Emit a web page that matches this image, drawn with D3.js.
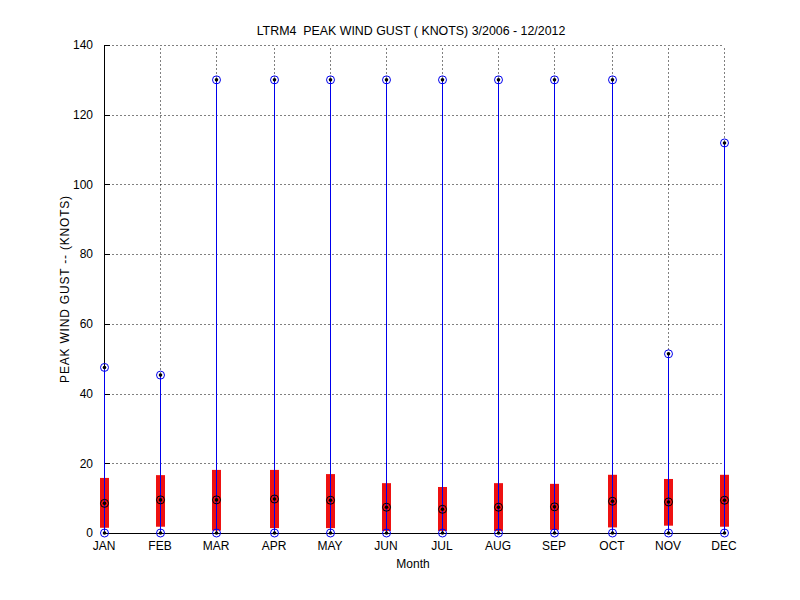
<!DOCTYPE html>
<html>
<head>
<meta charset="utf-8">
<script src="https://cdn.jsdelivr.net/npm/d3@7"></script>
<style>
  body { margin: 0; background: #fff; }
  text { font-family: "Liberation Sans", Arial, sans-serif; font-size: 12px; fill: #000; }
</style>
</head>
<body>
<div id="chart"></div>
<script>
// monthly peak wind gust stats (knots)
var months = ["JAN","FEB","MAR","APR","MAY","JUN","JUL","AUG","SEP","OCT","NOV","DEC"];
var minVals = [0,0,0,0,0,0,0,0,0,0,0,0];
var maxVals = [47.5,45.3,130,130,130,130,130,130,130,130,51.4,111.9];
var meanVals = [8.5,9.5,9.5,9.75,9.4,7.4,6.8,7.4,7.5,9.1,8.9,9.4];
var lowVals = [1.5,1.8,0.7,1.4,1.4,0.6,0.6,0.6,0.9,1.6,2.1,1.8];
var highVals = [15.8,16.6,18.1,18.1,16.9,14.3,13.2,14.3,14.1,16.7,15.5,16.7];
var yTicks = [0,20,40,60,80,100,120,140];

var width = 800, height = 600;
var margin = {top: 45, left: 104, right: 76, bottom: 67};

var svg = d3.select("#chart").append("svg")
    .attr("width", width)
    .attr("height", height);

var x = d3.scalePoint()
    .domain(months)
    .range([margin.left, width - margin.right]);

var y = d3.scaleLinear()
    .domain([0, 140])
    .range([height - margin.bottom, margin.top]);

// snap to even pixel columns so thin coloured lines keep their colour
function col(m){ return Math.round(x(m) / 2) * 2; }
function px(m){ return col(m) + 0.5; }
function py(v){ return Math.round(y(v)) + 0.5; }

var lineBlue = "#0000ee";

// grid
svg.append("g").selectAll("line.gx")
    .data(months).enter().append("line")
    .attr("x1", px).attr("x2", px)
    .attr("y1", py(0)).attr("y2", py(140))
    .attr("stroke", "#000").attr("stroke-width", 1)
    .attr("stroke-dasharray", "1,3");

svg.append("g").selectAll("line.gy")
    .data(yTicks).enter().append("line")
    .attr("x1", px("JAN")).attr("x2", px("DEC"))
    .attr("y1", py).attr("y2", py)
    .attr("stroke", "#000").attr("stroke-width", 1)
    .attr("stroke-dasharray", "1,3");

// axes (ticks point inward like matlab)
var yAxis = d3.axisLeft(y).tickValues(yTicks).tickSizeInner(-6).tickSizeOuter(0).tickPadding(11);
var gy = svg.append("g")
    .attr("transform", "translate(" + col("JAN") + ",0)")
    .call(yAxis);

var xAxis = d3.axisBottom(x).tickSizeInner(-6).tickSizeOuter(0).tickPadding(10);
var gx = svg.append("g")
    .attr("transform", "translate(0," + (py(0) - 0.5) + ")")
    .call(xAxis);

[gx, gy].forEach(function(g){
    g.selectAll("text").style("font-family", "Liberation Sans, Arial, sans-serif").style("font-size", "12px").attr("fill", "#000");
    g.selectAll("line,path").attr("stroke", "#000").attr("shape-rendering", "crispEdges");
});
gx.selectAll(".tick text").attr("dy", "0.55em");
gx.selectAll(".tick").attr("transform", function(d){ return "translate(" + col(d) + ",0)"; });

var data = months.map(function(m, i){
    return {m: m, min: minVals[i], max: maxVals[i], mean: meanVals[i], lo: lowVals[i], hi: highVals[i]};
});

// red bars
svg.append("g").selectAll("rect")
    .data(data).enter().append("rect")
    .attr("x", function(d){ return col(d.m) - 4; })
    .attr("width", 9)
    .attr("y", function(d){ return y(d.hi); })
    .attr("height", function(d){ return y(d.lo) - y(d.hi); })
    .attr("fill", "#ee1111");

// blue range lines
svg.append("g").selectAll("line")
    .data(data).enter().append("line")
    .attr("x1", function(d){ return px(d.m); })
    .attr("x2", function(d){ return px(d.m); })
    .attr("y1", function(d){ return y(d.min); })
    .attr("y2", function(d){ return y(d.max); })
    .attr("stroke", lineBlue).attr("stroke-width", 1);

// markers
function marker(key, ringColor){
    var g = svg.append("g");
    g.selectAll("circle.r")
        .data(data).enter().append("circle")
        .attr("cx", function(d){ return px(d.m); })
        .attr("cy", function(d){ return y(d[key]); })
        .attr("r", 4)
        .attr("fill", "none")
        .attr("stroke", ringColor).attr("stroke-width", 1);
    g.selectAll("circle.d")
        .data(data).enter().append("circle")
        .attr("cx", function(d){ return px(d.m); })
        .attr("cy", function(d){ return y(d[key]); })
        .attr("r", 1.8)
        .attr("fill", "#000");
}
marker("min", lineBlue);
marker("max", lineBlue);
marker("mean", "#000");

// titles
svg.append("text")
    .attr("x", 411)
    .attr("y", 35)
    .attr("text-anchor", "middle")
    .style("font-size", "12.4px")
    .style("white-space", "pre")
    .text("LTRM4  PEAK WIND GUST ( KNOTS) 3/2006 - 12/2012");

svg.append("text")
    .attr("x", 413)
    .attr("y", 568)
    .attr("text-anchor", "middle")
    .text("Month");

svg.append("text")
    .attr("transform", "translate(69," + (y(0) + y(140)) / 2 + ") rotate(-90)")
    .attr("text-anchor", "middle")
    .style("letter-spacing", "0.8px")
    .text("PEAK WIND GUST -- (KNOTS)");
</script>
</body>
</html>
